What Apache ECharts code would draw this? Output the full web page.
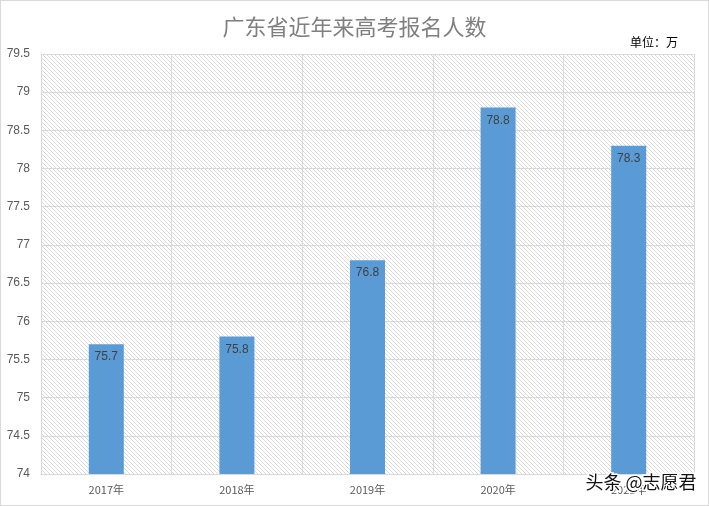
<!DOCTYPE html>
<html><head><meta charset="utf-8">
<script src="https://cdn.jsdelivr.net/npm/echarts@6/dist/echarts.min.js"></script>
<style>html,body{margin:0;padding:0;background:#fff}#c{width:709px;height:506px;box-sizing:border-box;border:1px solid #d9d9d9}</style>
</head><body><div id="c"></div>
<script>
const categories = ['2017年','2018年','2019年','2020年','2021年'];
const values = [75.7, 75.8, 76.8, 78.8, 78.3];
const titleText = '广东省近年来高考报名人数';
const unitText = '单位：万';
const watermarkText = '头条 @志愿君';

const pc = document.createElement('canvas');
pc.width = 4; pc.height = 4;
const g = pc.getContext('2d');
g.strokeStyle = '#cfcfcf'; g.lineWidth = 0.8;
for (let k = -4; k <= 8; k += 4) { g.beginPath(); g.moveTo(k, 0); g.lineTo(k + 4, 4); g.stroke(); }

const chart = echarts.init(document.getElementById('c'));
chart.setOption({
  animation: false,
  title: { text: titleText, left: 'center', top: 10,
    textStyle: { color: '#7f7f7f', fontSize: 22, fontWeight: 'normal', fontFamily: 'Noto Sans CJK SC' } },
  grid: { left: 40, right: 14, top: 53, bottom: 31, show: true, borderWidth: 0,
    backgroundColor: { image: pc, repeat: 'repeat' } },
  xAxis: { type: 'category', data: categories,
    axisLine: { lineStyle: { color: '#d9d9d9' } }, axisTick: { show: false },
    splitLine: { show: true, interval: 0, lineStyle: { color: '#d9d9d9' } },
    axisLabel: { color: '#595959', fontSize: 11, margin: 10, fontFamily: 'Noto Sans CJK SC' } },
  yAxis: { type: 'value', min: 74, max: 79.5, interval: 0.5,
    axisLine: { show: false }, axisTick: { show: false },
    splitLine: { lineStyle: { color: '#d9d9d9' } },
    axisLabel: { color: '#595959', fontSize: 12, margin: 11, fontFamily: 'Liberation Sans' } },
  series: [{ type: 'bar', data: values, barWidth: 35,
    itemStyle: { color: '#5b9bd5' },
    label: { show: true, position: 'insideTop', distance: 7, color: '#404040', fontSize: 12, fontFamily: 'Liberation Sans' } }],
  graphic: [
    { type: 'text', right: 30, top: 35, style: { text: unitText, fill: '#000', fontSize: 12, fontFamily: 'Noto Sans CJK SC' } },
    { type: 'text', left: 583, top: 471, z: 100, style: { text: watermarkText, fill: '#111', stroke: '#fff', lineWidth: 3, fontSize: 18, fontFamily: 'Noto Sans CJK SC' } }
  ]
});
</script></body></html>
